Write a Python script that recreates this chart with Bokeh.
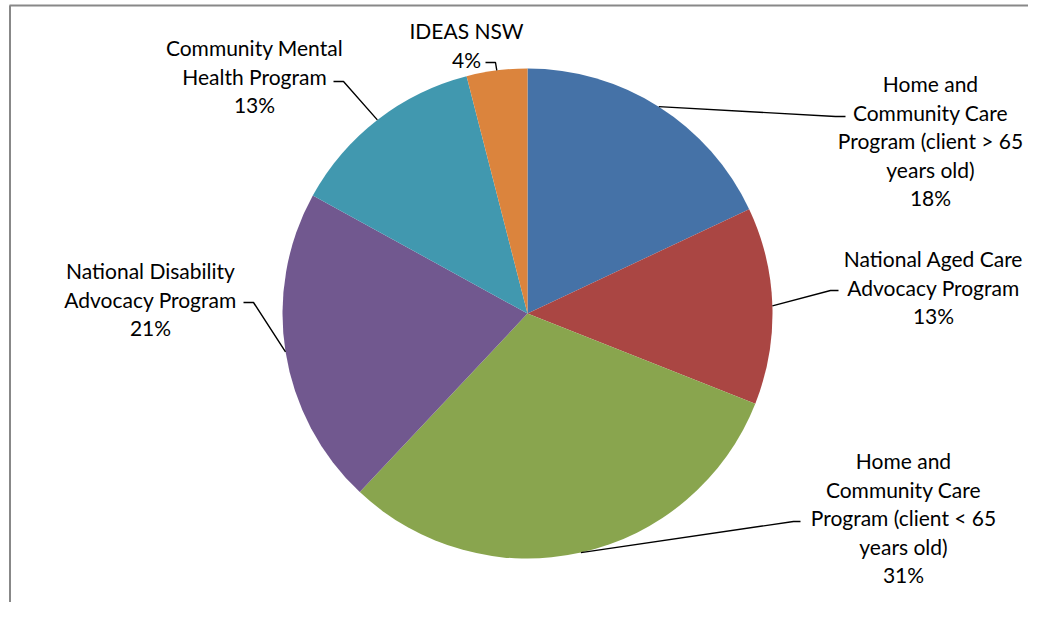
import math
from bokeh.plotting import figure
from bokeh.models import Range1d
from bokeh.core.properties import value
from bokeh.embed import file_html
from bokeh.resources import INLINE

# ---- data ----
categories = [
    "Home and\nCommunity Care\nProgram (client > 65\nyears old)",
    "National Aged Care\nAdvocacy Program",
    "Home and\nCommunity Care\nProgram (client < 65\nyears old)",
    "National Disability\nAdvocacy Program",
    "Community Mental\nHealth Program",
    "IDEAS NSW",
]
shares = [18, 13, 31, 21, 13, 4]
colors = ["#4572A7", "#AA4643", "#89A54E", "#71588F", "#4198AF", "#DB843D"]

# ---- layout (page pixel coordinates) ----
CX, CY, R = 527, 313, 245
label_pos = [(930, 83), (933, 258), (903, 460), (150, 270), (254, 47), (466, 30)]
line_gap = 28.5
elbows = [
    [(835, 116), (845, 116)],
    [(830, 290), (838, 290)],
    [(793, 521), (800, 521)],
    [(253, 302), (243, 302)],
    [(343, 81), (333, 81)],
    [(495, 62), (485, 62)],
]

W, H = 1028, 602
def Y(py):
    return 618 - py

p = figure(width=W, height=H, output_backend="svg", toolbar_location=None,
           x_range=Range1d(0, W), y_range=Range1d(618 - H, 618),
           min_border=0, outline_line_color=None, background_fill_color="white",
           border_fill_color="white")
p.axis.visible = False
p.grid.visible = False

total = float(sum(shares))
cum = 0.0
for i, (s, c) in enumerate(zip(shares, colors)):
    a0 = math.radians(90 - cum / total * 360)
    a1 = math.radians(90 - (cum + s) / total * 360)
    p.wedge(x=[CX], y=[Y(CY)], radius=R, start_angle=[a0], end_angle=[a1],
            direction="clock", fill_color=c, line_color=None)
    am = (a0 + a1) / 2
    ex, ey = CX + R * math.cos(am), Y(CY) + R * math.sin(am)
    xs = [ex] + [e[0] for e in elbows[i]]
    ys = [ey] + [Y(e[1]) for e in elbows[i]]
    p.line(xs, ys, line_color="black", line_width=1.4)
    lines = categories[i].split("\n") + [f"{s}%"]
    lx, ly = label_pos[i]
    p.text(x=[lx] * len(lines), y=[Y(ly + k * line_gap) for k in range(len(lines))],
           text=lines, text_align="center", text_baseline="middle",
           text_font=value("Lato"), text_font_size="21px", text_color="#000000")
    cum += s

# frame lines (top and left)
p.line([9, W], [Y(5), Y(5)], line_color="#888888", line_width=2)
p.line([9.5, 9.5], [Y(5), 0], line_color="#888888", line_width=2)

open("out.html", "w").write(file_html(p, INLINE))
